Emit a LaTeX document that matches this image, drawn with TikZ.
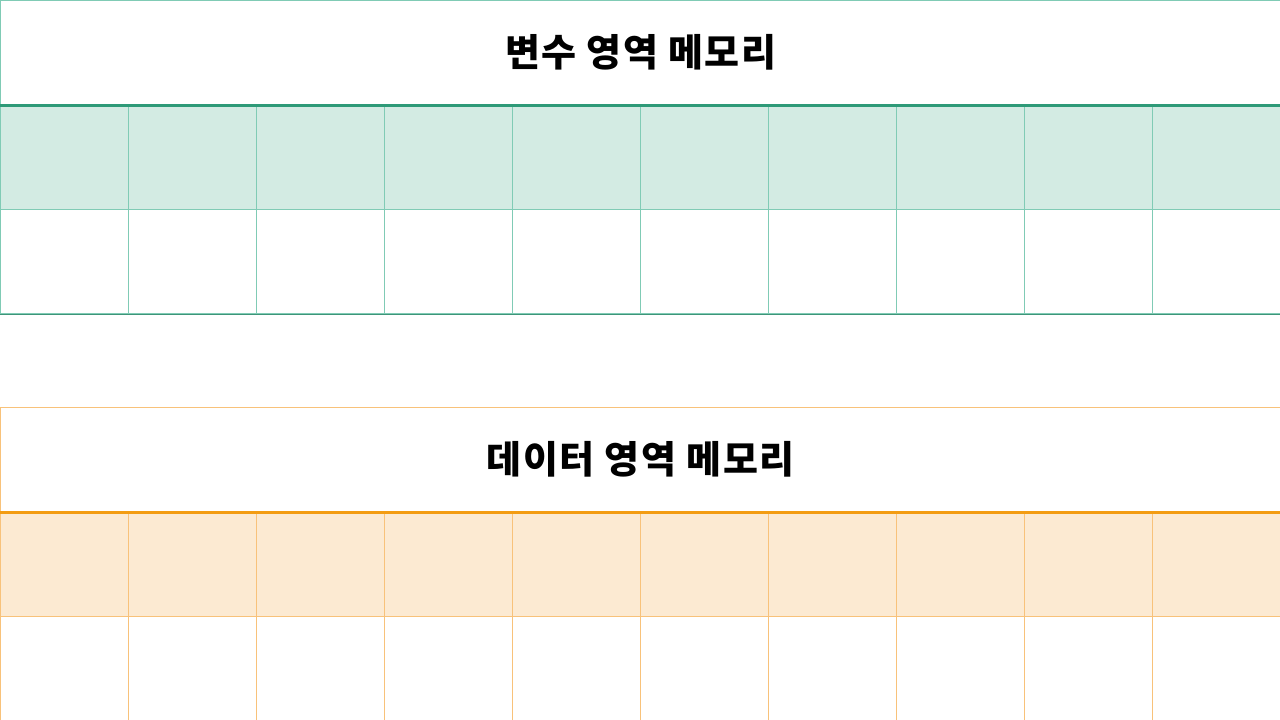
\documentclass[tikz,border=0pt]{standalone}
\usepackage{fontspec}
\newfontfamily\krfont{Noto Sans CJK KR}[LetterSpace=4]
\definecolor{greenline}{HTML}{80CBB5}
\definecolor{greendark}{HTML}{2E9A78}
\definecolor{greenfill}{HTML}{D3EBE3}
\definecolor{orangeline}{HTML}{F8C27A}
\definecolor{orangedark}{HTML}{F39C12}
\definecolor{orangefill}{HTML}{FCEAD2}

\begin{document}
\begin{tikzpicture}[x=1pt,y=-1pt]

\tikzstyle{memtitle} = [rectangle,fill=white,minimum width=1280pt,minimum height=104pt,inner sep=0,anchor=north west,font=\krfont\bfseries\fontsize{38}{42}\selectfont,text=black]%
\tikzstyle{memcell} = [rectangle,minimum width=128pt,minimum height=104.5pt,inner sep=0,anchor=north west,line width=1.3pt]%
\tikzstyle{varcell} = [memcell,draw=greenline]%
\tikzstyle{datacell} = [memcell,draw=orangeline]%
\tikzstyle{headline} = [line width=2.5pt]%

\useasboundingbox[fill=white] (0,0) rectangle (1280,720);

% variable area
\node[memtitle,draw=greenline,line width=1.3pt] (vartitle) at (0,0) {변수 영역 메모리};
\foreach \i in {1,...,10} {
  \node[varcell,fill=greenfill] (vh\i) at ({(\i-1)*128},104) {};
  \node[varcell,fill=white] (vb\i) at ({(\i-1)*128},208.5) {};
}
\draw[headline,draw=greendark] (vartitle.south west) -- (vartitle.south east);
\draw[line width=1pt,draw=greendark!80!gray] (vb1.south west) -- (vb10.south east);

% data area
\node[memtitle,draw=orangeline,line width=1.3pt] (datatitle) at (0,407) {데이터 영역 메모리};
\foreach \i in {1,...,10} {
  \node[datacell,fill=orangefill] (dh\i) at ({(\i-1)*128},511) {};
  \node[datacell,fill=white] (db\i) at ({(\i-1)*128},615.5) {};
}
\draw[headline,draw=orangedark] (datatitle.south west) -- (datatitle.south east);

\end{tikzpicture}
\end{document}
